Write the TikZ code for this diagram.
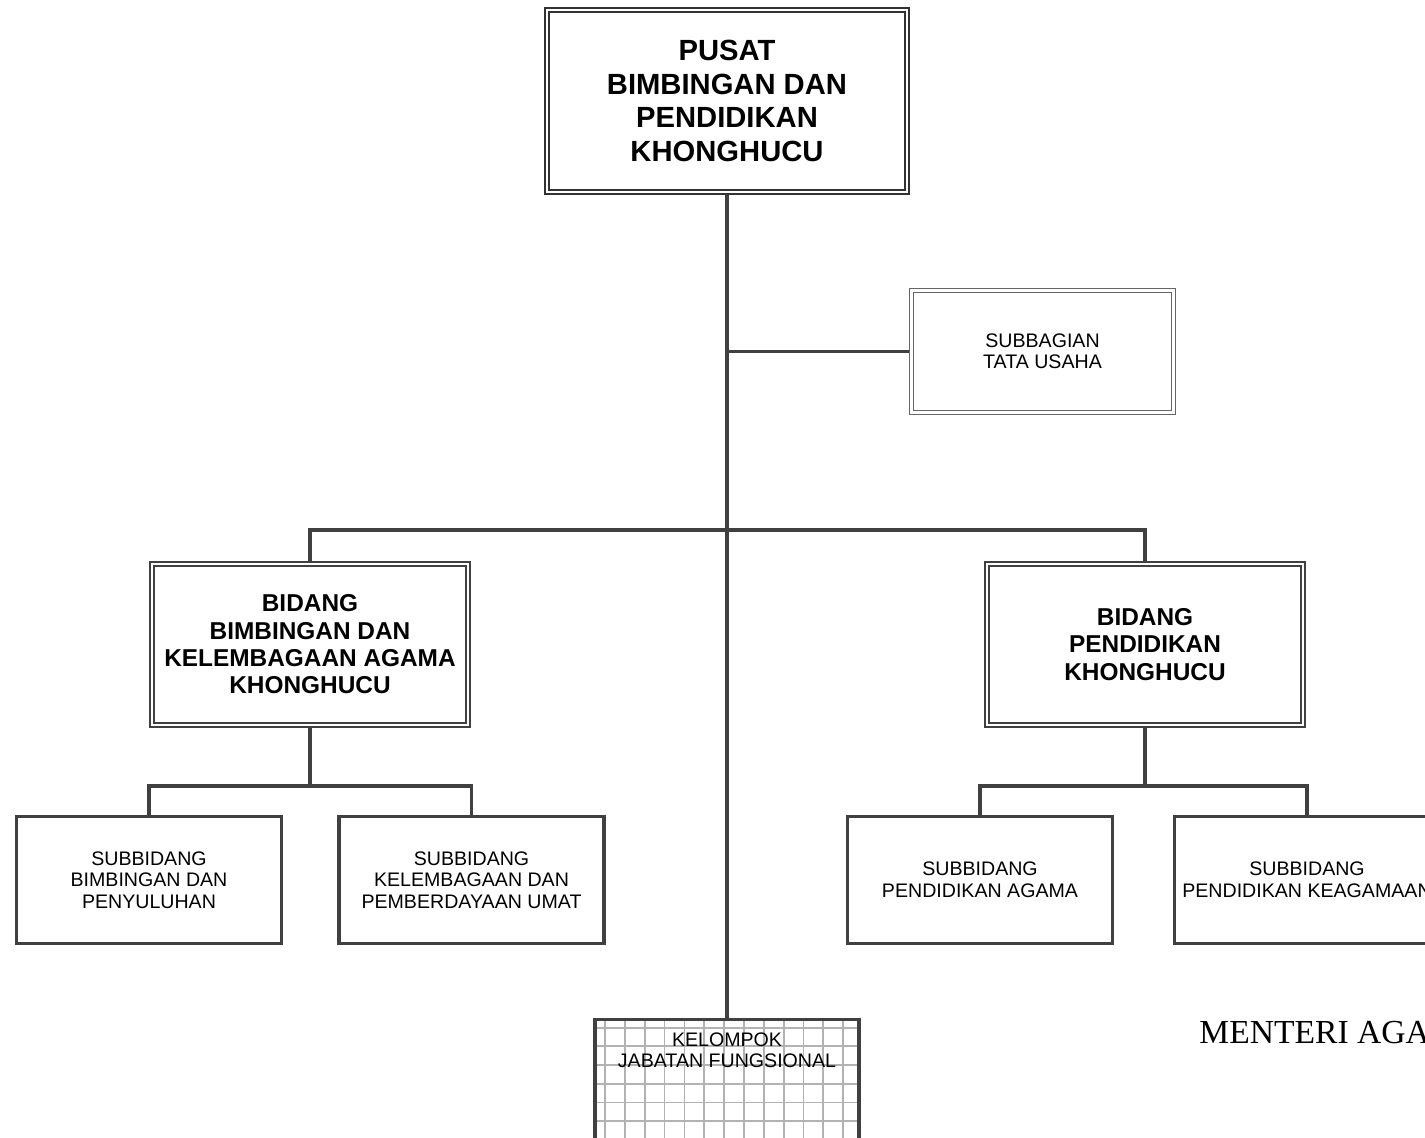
\documentclass[tikz,border=0pt]{standalone}
\usepackage{fontspec}
\newfontfamily\arialfont{Liberation Sans}
\newfontfamily\timesfont{Liberation Serif}
\usetikzlibrary{positioning, calc}

\begin{document}
\begin{tikzpicture}[x=0.5pt, y=-0.5pt,
  conn/.style={draw=black!75, line width=1.75pt},
  boldtext/.style={align=center, font=\arialfont\bfseries\fontsize{12.2}{13.7}\selectfont},
  subtext/.style={align=center, font=\arialfont\fontsize{9.8}{10.75}\selectfont},
  pusatbox/.style={draw=black!80, line width=1.1pt, double, double distance=0.8pt, outer sep=1.5pt,
    minimum width=180pt, minimum height=91pt, align=center,
    font=\arialfont\bfseries\fontsize{14.6}{16.7}\selectfont},
  bidangbox/.style={boldtext, draw=black!75, line width=0.8pt, double, double distance=1.2pt, outer sep=1.4pt,
    minimum width=158pt, minimum height=80.6pt},
  subbagbox/.style={subtext, draw=black!60, line width=0.55pt, double, double distance=1.4pt, outer sep=1.25pt,
    minimum width=131pt, minimum height=61pt},
  subbox/.style={subtext, draw=black!75, line width=1.65pt, minimum width=132.5pt, minimum height=63.5pt},
  gridbox/.style={draw=black!75, line width=1.65pt, minimum width=132pt, minimum height=80pt,
    path picture={
      \foreach \k in {0,...,12}
        \draw[gridline] ([shift={(10+19.85*\k,0)}]path picture bounding box.north west) -- ([shift={(10+19.85*\k,0)}]path picture bounding box.south west);
      \foreach \k in {0,...,8}
        \draw[gridline] ([shift={(0,8+18.7*\k)}]path picture bounding box.north west) -- ([shift={(0,8+18.7*\k)}]path picture bounding box.north east);
    }},
  gridline/.style={draw=black!30, line width=0.9pt}]
\useasboundingbox (0,0) rectangle (1425,1138);
\clip (0,0) rectangle (1425,1138);

% Pusat
\node[pusatbox] (pusat) at (727,101) {PUSAT\\BIMBINGAN DAN\\PENDIDIKAN\\KHONGHUCU};
\node[subbagbox] (tu) at (1042.5,351.5) {SUBBAGIAN\\TATA USAHA};

% Bidang
\node[bidangbox] (bkak) at (310,644.5) {BIDANG\\BIMBINGAN DAN\\KELEMBAGAAN AGAMA\\KHONGHUCU};
\node[bidangbox] (pk) at (1145,644.5) {BIDANG\\PENDIDIKAN\\KHONGHUCU};

% Subbidang
\node[subbox] (sbbp) at (149,880) {SUBBIDANG\\BIMBINGAN DAN\\PENYULUHAN};
\node[subbox] (sbkpu) at (471.5,880) {SUBBIDANG\\KELEMBAGAAN DAN\\PEMBERDAYAAN UMAT};
\node[subbox] (sbpa) at (980,880) {SUBBIDANG\\PENDIDIKAN AGAMA};
\node[subbox] (sbpk) at (1307,880) {SUBBIDANG\\PENDIDIKAN KEAGAMAAN};

% Kelompok jabatan fungsional
\node[gridbox, anchor=north] (kjf) at (727,1018) {};
\node[subtext] (kjftext) at (727,1050.5) {KELOMPOK\\JABATAN FUNGSIONAL};

\node[anchor=base west, inner sep=0pt, font=\timesfont\fontsize{16.8}{20}\selectfont] (menteri) at (1199,1043) {MENTERI AGAMA};

% Garis
\coordinate (branch) at (727,530);
\coordinate (split1) at (310,786);
\coordinate (split2) at (1145,786);
\draw[conn] (pusat.south) -- (kjf.north);
\draw[conn] (tu.west) -- (tu.west -| pusat.south);
\draw[conn] (bkak.north) |- (branch) -| (pk.north);
\draw[conn] (bkak.south) -- (split1);
\draw[conn] (sbbp.north) |- (split1) -| (sbkpu.north);
\draw[conn] (pk.south) -- (split2);
\draw[conn] (sbpa.north) |- (split2) -| (sbpk.north);
\end{tikzpicture}
\end{document}
